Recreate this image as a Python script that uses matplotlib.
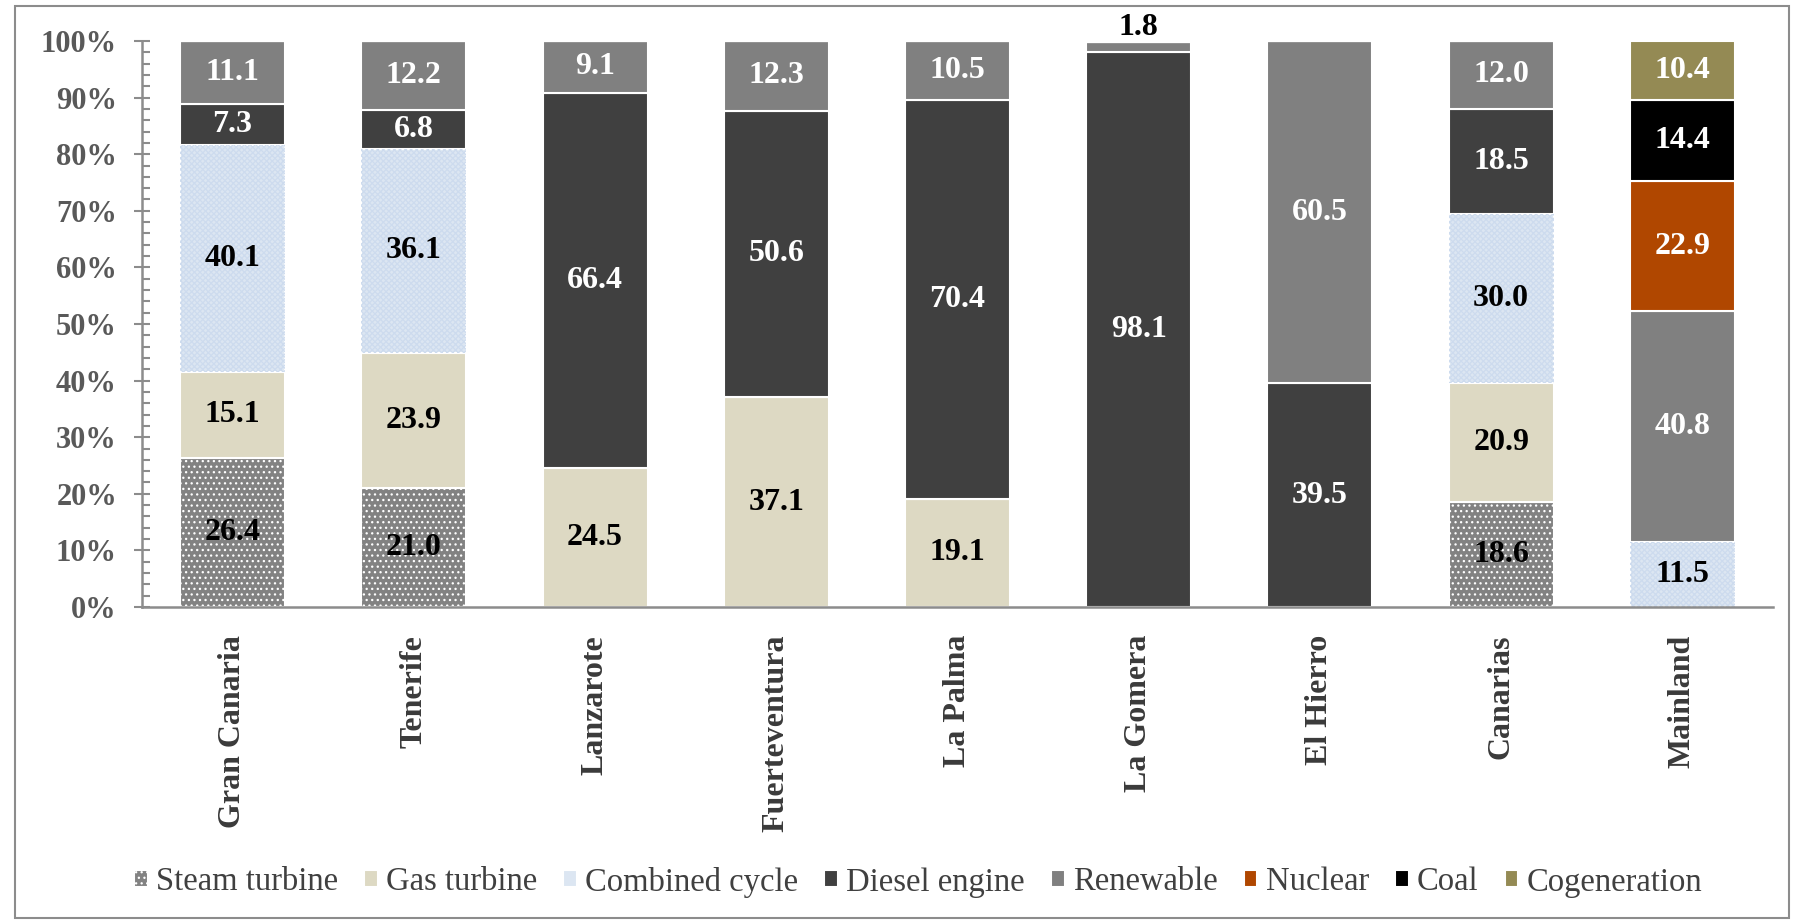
import numpy as np
import matplotlib
matplotlib.use("Agg")
import matplotlib.pyplot as plt
from matplotlib.patches import Rectangle
from matplotlib.ticker import MultipleLocator, FuncFormatter

plt.rcParams["font.family"] = ["Liberation Serif", "DejaVu Serif"]
plt.rcParams["hatch.linewidth"] = 0.9

regions = ["Gran Canaria", "Tenerife", "Lanzarote", "Fuerteventura", "La Palma",
           "La Gomera", "El Hierro", "Canarias", "Mainland"]

steam_turbine = [26.4, 21.0, 0, 0, 0, 0, 0, 18.6, 0]
gas_turbine = [15.1, 23.9, 24.5, 37.1, 19.1, 0, 0, 20.9, 0]
combined_cycle = [40.1, 36.1, 0, 0, 0, 0, 0, 30.0, 11.5]
diesel_engine = [7.3, 6.8, 66.4, 50.6, 70.4, 98.1, 39.5, 18.5, 0]
renewable = [11.1, 12.2, 9.1, 12.3, 10.5, 1.8, 60.5, 12.0, 40.8]
nuclear = [0, 0, 0, 0, 0, 0, 0, 0, 22.9]
coal = [0, 0, 0, 0, 0, 0, 0, 0, 14.4]
cogeneration = [0, 0, 0, 0, 0, 0, 0, 0, 10.4]

y_ticks = [0, 10, 20, 30, 40, 50, 60, 70, 80, 90, 100]

# (legend label, values, fill colour, hatch, value-label colour)
series = [
    ("Steam turbine", steam_turbine, "#828282", "...", "black"),
    ("Gas turbine", gas_turbine, "#ddd9c3", None, "black"),
    ("Combined cycle", combined_cycle, "#dce6f2", None, "black"),
    ("Diesel engine", diesel_engine, "#404040", None, "white"),
    ("Renewable", renewable, "#808080", None, "white"),
    ("Nuclear", nuclear, "#b04700", None, "white"),
    ("Coal", coal, "#000000", None, "white"),
    ("Cogeneration", cogeneration, "#948a54", None, "white"),
]

W, H, DPI = 1793, 923, 100
fig = plt.figure(figsize=(W / DPI, H / DPI), dpi=DPI)
ax = fig.add_axes([142 / W, 1 - 607 / H, (1773 - 142) / W, (607 - 41) / H])

x = np.arange(len(regions))
width = 0.58
bottom = np.zeros(len(regions))
handles, labels = [], []
for name, vals, color, hatch, tcolor in series:
    vals = np.asarray(vals, dtype=float)
    bars = ax.bar(x, vals, width, bottom=bottom, color=color,
                  edgecolor="white", linewidth=1.5, hatch=hatch, zorder=2)
    if name == "Combined cycle":
        # fine texture over the light-blue fill
        ax.bar(x, vals, width, bottom=bottom, facecolor="none",
               edgecolor="#cddbee", linewidth=0, hatch="xxxxxx", zorder=2.5)
    handles.append(bars[0])
    labels.append(name)
    for xi, v, b in zip(x, vals, bottom):
        if v <= 0:
            continue
        if v < 3:
            ax.annotate(f"{v:.1f}", (xi, b + v), xytext=(0, 0),
                        textcoords="offset points", ha="center", va="bottom",
                        fontsize=23, fontweight="bold", color="black", zorder=4)
        else:
            ax.text(xi, b + v / 2, f"{v:.1f}", ha="center", va="center",
                    fontsize=23, fontweight="bold", color=tcolor, zorder=4)
    bottom = bottom + vals

ax.set_xlim(-0.5, len(regions) - 0.5)
ax.set_ylim(0, 100)
ax.set_yticks(y_ticks)
ax.yaxis.set_major_formatter(FuncFormatter(lambda v, p: f"{v:.0f}%"))
ax.yaxis.set_minor_locator(MultipleLocator(2))
ax.set_xticks(x)
ax.set_xticklabels(regions, rotation=90, fontsize=23, fontweight="bold",
                   color="#3a3a3a", va="top", ha="center")

axis_grey = "#8c8c8c"
for side in ("top", "right"):
    ax.spines[side].set_visible(False)
for side in ("left", "bottom"):
    ax.spines[side].set_color(axis_grey)
    ax.spines[side].set_linewidth(1.8)
ax.tick_params(axis="y", which="major", direction="inout", length=12,
               width=1.5, color=axis_grey, labelsize=22, labelcolor="#595959",
               pad=12)
ax.tick_params(axis="y", which="minor", direction="in", length=6,
               width=1.5, color=axis_grey)
ax.tick_params(axis="x", length=0, pad=20)
for lbl in ax.get_yticklabels():
    lbl.set_fontweight("bold")

leg = fig.legend(handles, labels, loc="center",
                 bbox_to_anchor=(918 / W, 1 - 882 / H), ncol=8, frameon=False,
                 fontsize=23.5, handlelength=0.42, handleheight=0.42,
                 handletextpad=0.25, columnspacing=0.8, borderaxespad=0)
for t in leg.get_texts():
    t.set_color("#404040")

# outer frame around the whole chart
fig.patches.append(Rectangle((15 / W, 5 / H), (1789 - 15) / W, (917 - 5) / H,
                             transform=fig.transFigure, fill=False,
                             edgecolor="#8c8c8c", linewidth=1.5))

fig.savefig("out.png", dpi=DPI)
